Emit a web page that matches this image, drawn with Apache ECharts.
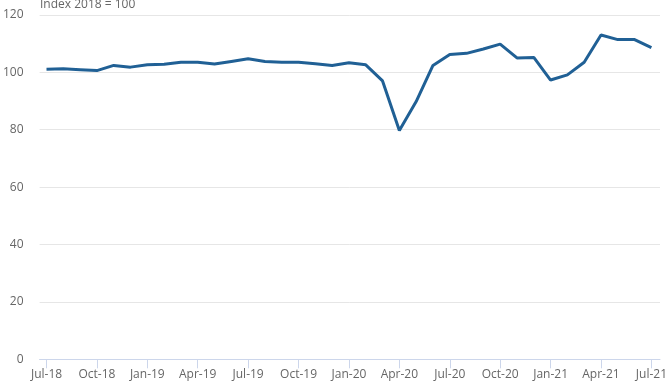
<!DOCTYPE html>
<html>
<head>
<meta charset="utf-8">
<script src="https://cdn.jsdelivr.net/npm/echarts@6/dist/echarts.min.js"></script>
<style>
html,body{margin:0;padding:0;background:#fff;}
#chart{width:670px;height:388px;}
</style>
</head>
<body>
<div id="chart"></div>
<script>
var months = ["Jul-18","Aug-18","Sep-18","Oct-18","Nov-18","Dec-18","Jan-19","Feb-19","Mar-19","Apr-19","May-19","Jun-19",
  "Jul-19","Aug-19","Sep-19","Oct-19","Nov-19","Dec-19","Jan-20","Feb-20","Mar-20","Apr-20","May-20","Jun-20",
  "Jul-20","Aug-20","Sep-20","Oct-20","Nov-20","Dec-20","Jan-21","Feb-21","Mar-21","Apr-21","May-21","Jun-21","Jul-21"];
var indexValues = [101.1,101.2,100.9,100.6,102.4,101.8,102.6,102.8,103.5,103.5,102.9,103.8,
  104.7,103.8,103.5,103.5,103.0,102.4,103.3,102.6,97.0,79.7,89.8,102.4,
  106.2,106.6,108.1,109.8,105.0,105.2,97.3,99.1,103.5,113.0,111.4,111.4,108.6];
var yTicks = [0,20,40,60,80,100,120];
var unitLabel = "Index 2018 = 100";

var chart = echarts.init(document.getElementById('chart'), null, {renderer:'canvas'});
var font = "'Open Sans', sans-serif";
chart.setOption({
  animation:false,
  graphic:[{type:'text', left:40, top:-1, style:{text:unitLabel, fill:'#666', font:"12px 'Open Sans', sans-serif"}}],
  grid:[
    {left:39, right:10, top:14.9, bottom:28.7},
    {left:46.5, right:18.5, top:14.9, bottom:28.7}
  ],
  xAxis:[
    {gridIndex:0, type:'value', min:0, max:1, axisLabel:{show:false}, axisTick:{show:false}, splitLine:{show:false},
     axisLine:{show:true, lineStyle:{color:'#ccd6eb', width:1}}},
    {gridIndex:1, type:'category', data:months, boundaryGap:false,
     axisLine:{show:false},
     axisTick:{show:true, interval:2, length:9, lineStyle:{color:'#ccd6eb'}},
     axisLabel:{interval:2, margin:9, color:'#666', fontSize:12, fontFamily:font},
     splitLine:{show:false}}
  ],
  yAxis:[
    {gridIndex:0, type:'value', min:yTicks[0], max:yTicks[yTicks.length-1], interval:20,
     axisLine:{show:false}, axisTick:{show:false},
     axisLabel:{margin:16, color:'#666', fontSize:12, fontFamily:font},
     splitLine:{lineStyle:{color:'#e6e6e6', width:1}}},
    {gridIndex:1, type:'value', min:yTicks[0], max:yTicks[yTicks.length-1], interval:20, show:false}
  ],
  series:[{
    type:'line', xAxisIndex:1, yAxisIndex:1, data:indexValues,
    symbol:'none', lineStyle:{color:'#206095', width:3}, itemStyle:{color:'#206095'}
  }]
});
</script>
</body>
</html>
